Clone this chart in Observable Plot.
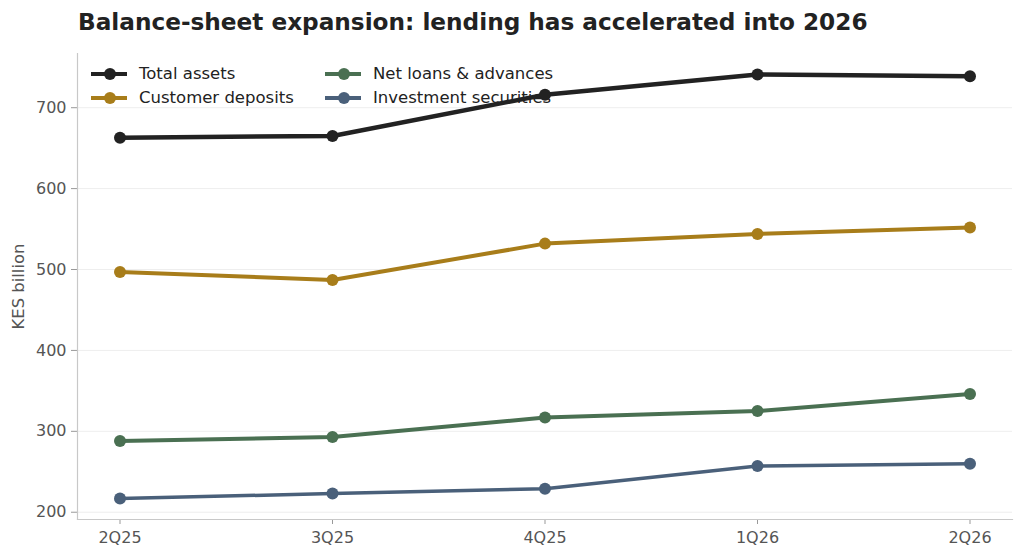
<!DOCTYPE html>
<html>
<head>
<meta charset="utf-8">
<script src="https://cdn.jsdelivr.net/npm/d3@7"></script>
<script src="https://cdn.jsdelivr.net/npm/@observablehq/plot@0.6"></script>
<style>
  html, body { margin: 0; padding: 0; background: #fff; }
  body { width: 1024px; height: 559px; position: relative; overflow: hidden; font-family: "DejaVu Sans", sans-serif; }
  #title { position: absolute; left: 78px; top: 8px; font-size: 23.2px; font-weight: bold; color: #222; white-space: nowrap; }
  #chart { position: absolute; left: 0; top: 40px; }
  #chart svg text { font-size: 16px !important; font-family: "DejaVu Sans", sans-serif; }
  #chart svg text.ylabtxt { font-size: 16.4px !important; }
  #legend { position: absolute; left: 91px; top: 63px; font-size: 16.5px; color: #222; display: grid; grid-template-columns: 234px auto; row-gap: 3px; }
  .item { display: flex; align-items: center; height: 21px; white-space: nowrap; }
  .sw { position: relative; width: 36px; height: 21px; margin-right: 12px; flex: none; }
  .sw .ln { position: absolute; left: 0; right: 0; top: 9px; height: 4px; }
  .sw .dt { position: absolute; left: 12.5px; top: 5px; width: 12px; height: 12px; border-radius: 50%; }
</style>
</head>
<body>
<div id="title">Balance-sheet expansion: lending has accelerated into 2026</div>
<div id="chart"></div>
<div id="legend"></div>
<script>
const quarters = ["2Q25", "3Q25", "4Q25", "1Q26", "2Q26"];
const seriesNames = ["Total assets", "Customer deposits", "Net loans & advances", "Investment securities"];
const seriesColors = ["#222222", "#a87d1a", "#4a7052", "#4a607a"];
const totalAssets = [663, 665, 716, 741, 739];
const customerDeposits = [497, 487, 532, 544, 552];
const netLoans = [288, 293, 317, 325, 346];
const investmentSecurities = [217, 223, 229, 257, 260];
const yTicks = [200, 300, 400, 500, 600, 700];

const allValues = [totalAssets, customerDeposits, netLoans, investmentSecurities];
const data = [];
seriesNames.forEach((name, i) => {
  quarters.forEach((q, j) => data.push({series: name, quarter: q, value: allValues[i][j]}));
});
const widths = {"Total assets": 4.5, "Customer deposits": 4, "Net loans & advances": 4, "Investment securities": 3.5};

const chart = Plot.plot({
  width: 1024,
  height: 519,
  marginTop: 13,
  marginBottom: 40,
  marginLeft: 77,
  marginRight: 12,
  style: {fontFamily: "DejaVu Sans, sans-serif", color: "#555", background: "#fff"},
  x: {type: "point", domain: quarters, padding: 0.2, round: false, label: null},
  y: {domain: [191, 767], label: null},
  color: {domain: seriesNames, range: seriesColors},
  marks: [
    Plot.gridY(yTicks, {stroke: "#eeeeee", strokeOpacity: 1, strokeWidth: 1}),
    Plot.axisY(yTicks, {tickSize: 6, tickPadding: 5, stroke: "#999", fill: "#555", label: null}),
    Plot.axisX(quarters, {tickSize: 5, tickPadding: 7, stroke: "#999", fill: "#555", label: null}),
    Plot.frame({anchor: "left", stroke: "#c8c8c8", strokeWidth: 1.2}),
    Plot.frame({anchor: "bottom", stroke: "#c8c8c8", strokeWidth: 1.2}),
    ...seriesNames.map((name, i) => Plot.line(data.filter(d => d.series === name), {
      x: "quarter", y: "value", stroke: seriesColors[i], strokeWidth: widths[name]
    })),
    Plot.dot(data, {x: "quarter", y: "value", fill: "series", r: 6, stroke: null}),
    Plot.text(["KES billion"], {frameAnchor: "left", textAnchor: "middle", dx: -59, rotate: -90, fill: "#555", fontSize: 16})
  ]
});
document.getElementById("chart").appendChild(chart);
chart.querySelectorAll("text").forEach(t => { if (t.textContent === "KES billion") t.classList.add("ylabtxt"); });

const legend = document.getElementById("legend");
const order = [0, 2, 1, 3];
order.forEach(i => {
  const it = document.createElement("div");
  it.className = "item";
  it.innerHTML = `<div class="sw"><div class="ln" style="background:${seriesColors[i]}"></div><div class="dt" style="background:${seriesColors[i]}"></div></div><span>${seriesNames[i].replace("&", "&amp;")}</span>`;
  legend.appendChild(it);
});
</script>
</body>
</html>
